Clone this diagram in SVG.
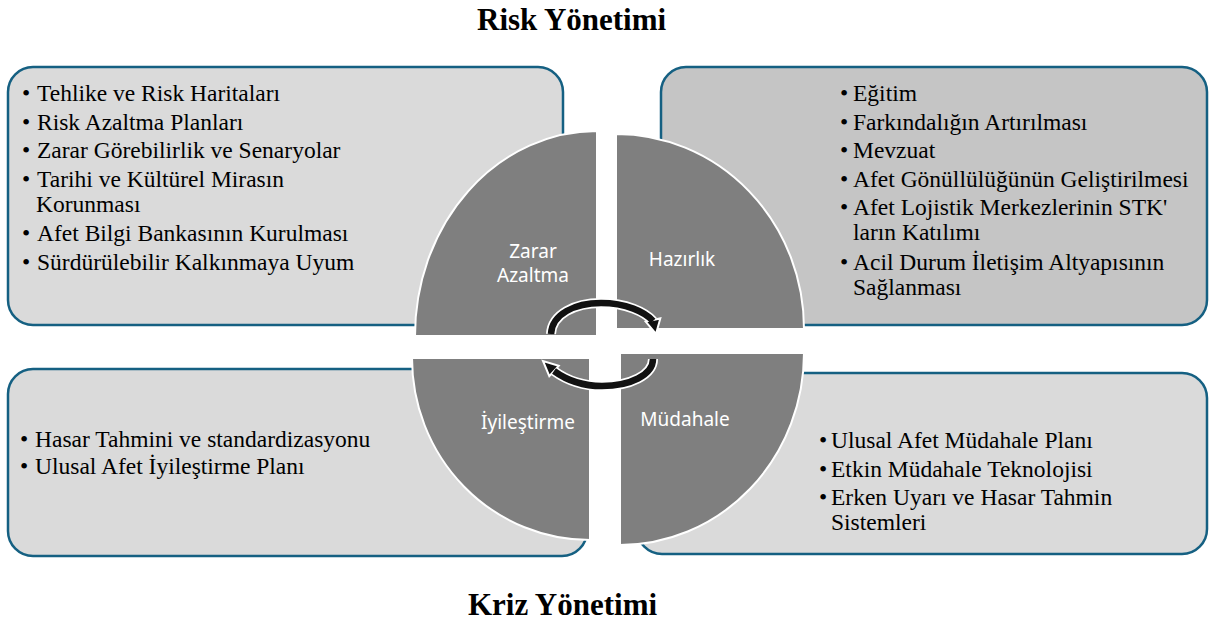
<svg xmlns="http://www.w3.org/2000/svg" width="1210" height="624" viewBox="0 0 1210 624">
<style>
.box{stroke:#156082;stroke-width:2.5}
.q{fill:#7f7f7f;stroke:#ffffff;stroke-width:2}
.ql{font-family:"Noto Sans","Open Sans",sans-serif;font-size:19px;fill:#ffffff;text-anchor:middle}
.t{font-family:'Liberation Serif','Times New Roman',serif;font-size:23.5px;font-weight:normal;fill:#000000}
.h{font-family:'Liberation Serif','Times New Roman',serif;font-size:31px;font-weight:bold;fill:#000000}
.aw{fill:none;stroke:#ffffff;stroke-width:10}
.ab{fill:none;stroke:#111111;stroke-width:6.5}
.ah{fill:#111111;stroke:#ffffff;stroke-width:2;stroke-linejoin:miter}
</style>
<rect width="1210" height="624" fill="#ffffff"/>
<text class="h" x="477" y="30">Risk Yönetimi</text>
<text class="h" x="468" y="615">Kriz Yönetimi</text>

<g id="box-tl">
<rect class="box" x="8" y="67" width="555" height="258" rx="25" fill="#dadada"/>
<g class="t" font-family="'Liberation Serif', 'Times New Roman', serif">
<text x="22" y="101">•</text><text x="37" y="101">Tehlike ve Risk Haritaları</text>
<text x="22" y="130">•</text><text x="37" y="130">Risk Azaltma Planları</text>
<text x="22" y="158">•</text><text x="37" y="158">Zarar Görebilirlik ve Senaryolar</text>
<text x="22" y="187">•</text><text x="37" y="187">Tarihi ve Kültürel Mirasın</text>
<text x="36" y="212">Korunması</text>
<text x="22" y="241">•</text><text x="37" y="241">Afet Bilgi Bankasının Kurulması</text>
<text x="22" y="270">•</text><text x="37" y="270">Sürdürülebilir Kalkınmaya Uyum</text>
</g>
</g>

<g id="box-tr">
<rect class="box" x="661" y="67" width="546" height="258" rx="25" fill="#c5c5c5"/>
<g class="t" font-family="'Liberation Serif', 'Times New Roman', serif">
<text x="840" y="101">•</text><text x="853" y="101">Eğitim</text>
<text x="840" y="130">•</text><text x="853" y="130">Farkındalığın Artırılması</text>
<text x="840" y="158">•</text><text x="853" y="158">Mevzuat</text>
<text x="840" y="187">•</text><text x="853" y="187">Afet Gönüllülüğünün Geliştirilmesi</text>
<text x="840" y="215">•</text><text x="853" y="215">Afet Lojistik Merkezlerinin STK'</text>
<text x="853" y="240">ların Katılımı</text>
<text x="840" y="270">•</text><text x="853" y="270">Acil Durum İletişim Altyapısının</text>
<text x="853" y="295">Sağlanması</text>
</g>
</g>

<g id="box-bl">
<rect class="box" x="8" y="369" width="579" height="187" rx="25" fill="#dadada"/>
<g class="t" font-family="'Liberation Serif', 'Times New Roman', serif">
<text x="20" y="447">•</text><text x="35" y="447">Hasar Tahmini ve standardizasyonu</text>
<text x="20" y="474">•</text><text x="35" y="474">Ulusal Afet İyileştirme Planı</text>
</g>
</g>

<g id="box-br">
<rect class="box" x="637" y="373" width="570" height="181" rx="25" fill="#dadada"/>
<g class="t" font-family="'Liberation Serif', 'Times New Roman', serif">
<text x="819" y="448">•</text><text x="831" y="448">Ulusal Afet Müdahale Planı</text>
<text x="819" y="477">•</text><text x="831" y="477">Etkin Müdahale Teknolojisi</text>
<text x="819" y="505">•</text><text x="831" y="505">Erken Uyarı ve Hasar Tahmin</text>
<text x="831" y="530">Sistemleri</text>
</g>
</g>

<g id="q-zarar">
<path class="q" d="M597,336 L415,336 A182,205 0 0 1 597,131 Z"/>
<text class="ql" x="533" y="258">Zarar</text>
<text class="ql" x="533" y="282">Azaltma</text>
</g>
<g id="q-hazirlik">
<path class="q" d="M616,329 L616,134 A188,195 0 0 1 804,329 Z"/>
<text class="ql" x="682" y="266">Hazırlık</text>
</g>
<g id="q-iyilestirme">
<path class="q" d="M590,358 L590,540 A178,182 0 0 1 412,358 Z"/>
<text class="ql" x="528" y="429">İyileştirme</text>
</g>
<g id="q-mudahale">
<path class="q" d="M620,353 L804,353 A184,192 0 0 1 620,545 Z"/>
<text class="ql" x="685" y="426">Müdahale</text>
</g>

<g id="connectors">
<path class="aw" d="M551,334 C552,314 575,303 601,303 C626,303 645,312 653,321"/>
<polygon class="ah" points="645.7,321.6 660.3,318.4 656,334"/>
<path class="ab" d="M551,334 C552,314 575,303 601,303 C626,303 645,312 653,321"/>
<path class="aw" d="M653,359 C653,375 630,386 602,386 C580,386 565,379 554,371"/>
<polygon class="ah" points="558.7,365.8 549.3,376.2 543,361"/>
<path class="ab" d="M653,359 C653,375 630,386 602,386 C580,386 565,379 554,371"/>
</g>
</svg>
